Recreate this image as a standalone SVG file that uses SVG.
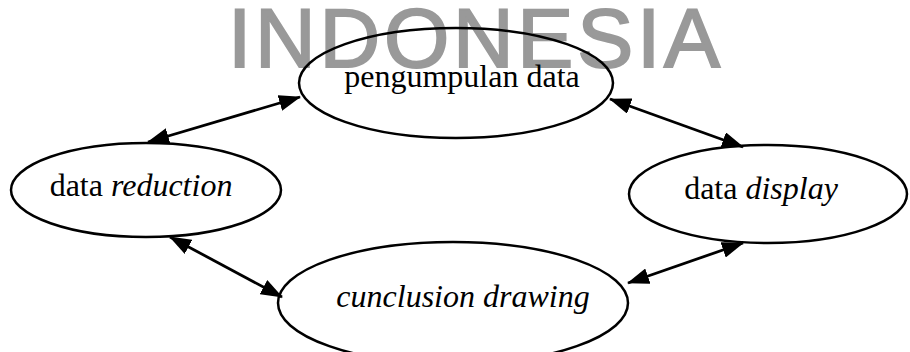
<svg xmlns="http://www.w3.org/2000/svg" width="910" height="352" viewBox="0 0 910 352">
<style>
.wm{font-family:"Liberation Sans","DejaVu Sans",sans-serif;font-size:84px;fill:#999999;stroke:#999999;stroke-width:2}
.node ellipse{fill:none;stroke:#000;stroke-width:2.5}
.node text{font-family:"Liberation Serif","Times New Roman",serif;font-size:32px;fill:#000;text-anchor:middle}
.it{font-style:italic}
.conn line{stroke:#000;stroke-width:2.8;marker-start:url(#ah);marker-end:url(#ah)}
</style>
<defs>
<marker id="ah" viewBox="0 0 22 16" refX="21" refY="8" markerWidth="22" markerHeight="16" markerUnits="userSpaceOnUse" orient="auto-start-reverse">
<path d="M0,0 L22,8 L0,16 Z" fill="#000"/>
</marker>
</defs>
<rect width="910" height="352" fill="#fff"/>
<text class="wm" x="228" y="67" textLength="492" lengthAdjust="spacing">INDONESIA</text>
<g class="conn">
<line x1="148" y1="142" x2="300" y2="97"/>
<line x1="610" y1="99" x2="743" y2="147"/>
<line x1="170" y1="237" x2="282" y2="297"/>
<line x1="628" y1="283" x2="743" y2="243"/>
</g>
<g id="pengumpulan" class="node">
<ellipse cx="456" cy="83" rx="157" ry="55"/>
<text x="462" y="87">pengumpulan data</text>
</g>
<g id="reduction" class="node">
<ellipse cx="146" cy="190" rx="135" ry="47"/>
<text x="141" y="196">data <tspan class="it">reduction</tspan></text>
</g>
<g id="display" class="node">
<ellipse cx="768" cy="194" rx="139" ry="49"/>
<text x="761" y="199">data <tspan class="it">display</tspan></text>
</g>
<g id="conclusion" class="node">
<ellipse cx="453" cy="303" rx="175" ry="61"/>
<text class="it" x="463" y="307">cunclusion drawing</text>
</g>
</svg>
